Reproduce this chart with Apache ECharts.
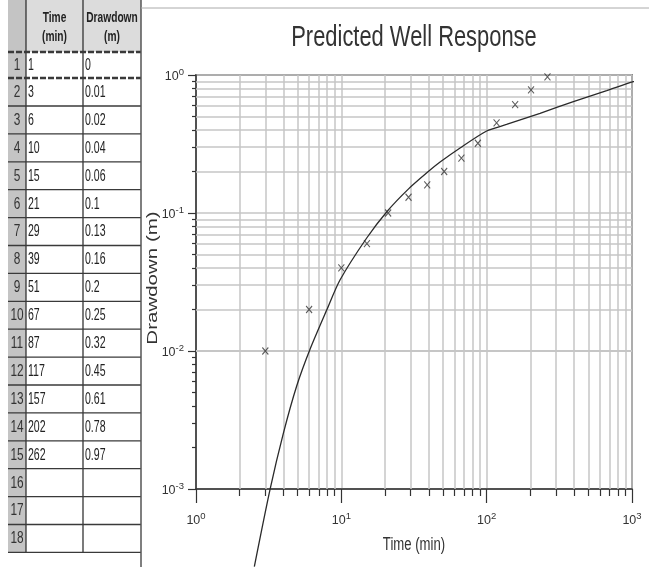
<!DOCTYPE html>
<html>
<head>
<meta charset="utf-8">
<script src="https://cdn.jsdelivr.net/npm/echarts@6/dist/echarts.min.js"></script>
<style>
html,body{margin:0;padding:0;background:#fff;}
#c{width:649px;height:567px;}
</style>
</head>
<body>
<div id="c"></div>
<script>
// ---------- data ----------
const tableRows = [1,2,3,4,5,6,7,8,9,10,11,12,13,14,15,16,17,18];
const obsTime = [1,3,6,10,15,21,29,39,51,67,87,117,157,202,262];
const obsDrawdown = [0,0.01,0.02,0.04,0.06,0.1,0.13,0.16,0.2,0.25,0.32,0.45,0.61,0.78,0.97];
const curveTime = [2.52,3.23,3.99,4.93,6.09,7.93,9.79,14.95,20.7,28.9,39.3,47.8,65.6,100,137,233,395,670,1021,1309];
const curveDrawdown = [0.000274,0.00099,0.00253,0.00558,0.0103,0.0198,0.0327,0.0659,0.103,0.149,0.198,0.234,0.296,0.393,0.438,0.528,0.641,0.770,0.894,0.962];
const minorX = [2,3,4,5,6,7,8,9,20,30,40,50,60,70,80,90,200,300,400,500,600,700,800,900];
const minorY = [0.002,0.003,0.004,0.005,0.006,0.007,0.008,0.009,0.02,0.03,0.04,0.05,0.06,0.07,0.08,0.09,0.2,0.3,0.4,0.5,0.6,0.7,0.8,0.9];
const headerTime = ['Time','(min)'];
const headerDrawdown = ['Drawdown','(m)'];
const chartTitle = 'Predicted Well Response';
const xName = 'Time (min)';
const yName = 'Drawdown (m)';

// ---------- styles ----------
const GFONT = "'Liberation Sans', Arial, sans-serif";
const AFONT = "'Liberation Sans', Arial, sans-serif";
const INK = '#333';
const GRIDC = '#c6c6c6';

function expLabel(v) {
  const e = Math.round(Math.log10(v));
  return '{b|10}{e|' + e + '}';
}
const rich = {
  b: {fontSize: 12.5, fontFamily: AFONT, color: INK, lineHeight: 16, verticalAlign: 'bottom'},
  e: {fontSize: 9.5, fontFamily: AFONT, color: INK, lineHeight: 16, verticalAlign: 'top'}
};

// ---------- table (graphic) ----------
const colX = [8, 26, 83, 141];
const rowY = [0, 52, 78];
for (let k = 0; k <= 16; k++) rowY.push(106 + 27.9 * k);
const tableBottom = rowY[rowY.length - 1];

const g = [];
g.push({type: 'rect', shape: {x: colX[0], y: 0, width: colX[3] - colX[0], height: rowY[1]}, style: {fill: '#dcdcdc'}, silent: true});
g.push({type: 'rect', shape: {x: colX[0], y: 0, width: colX[1] - colX[0], height: tableBottom}, style: {fill: '#c4c4c4'}, silent: true});
[colX[1], colX[2]].forEach(function (x) {
  g.push({type: 'line', shape: {x1: x, y1: 0, x2: x, y2: tableBottom}, style: {stroke: '#333', lineWidth: 1.3}, silent: true});
});
for (let i = 1; i < rowY.length; i++) {
  const dashed = (i === 1 || i === 2);
  g.push({type: 'line', shape: {x1: colX[0], y1: rowY[i], x2: colX[3], y2: rowY[i]},
    style: {stroke: '#3a3a3a', lineWidth: dashed ? 2.4 : 1.3, lineDash: dashed ? [6, 2] : null}, silent: true});
}
g.push({type: 'line', shape: {x1: 141, y1: 0, x2: 141, y2: 567}, style: {stroke: '#555', lineWidth: 1.5}, silent: true});
g.push({type: 'line', shape: {x1: 141, y1: 8, x2: 649, y2: 8}, style: {stroke: '#aaa', lineWidth: 1}, silent: true});

function txt(text, x, y, opt) {
  opt = opt || {};
  return {type: 'text', x: x, y: y, scaleX: opt.sx || 1, scaleY: opt.sy || 1, rotation: opt.rot || 0, silent: true,
    style: {text: text, fontSize: opt.fs || 16, fontWeight: opt.fw || 'normal', fontFamily: GFONT,
      fill: opt.color || '#222', align: opt.align || 'left', verticalAlign: 'middle'}};
}
const hc1 = (colX[1] + colX[2]) / 2, hc2 = (colX[2] + colX[3]) / 2;
g.push(txt(headerTime[0], hc1, 18, {fs: 15, fw: 'bold', sx: 0.68, align: 'center'}));
g.push(txt(headerTime[1], hc1, 37, {fs: 15, fw: 'bold', sx: 0.68, align: 'center'}));
g.push(txt(headerDrawdown[0], hc2, 18, {fs: 15, fw: 'bold', sx: 0.68, align: 'center'}));
g.push(txt(headerDrawdown[1], hc2, 37, {fs: 15, fw: 'bold', sx: 0.68, align: 'center'}));
tableRows.forEach(function (r, i) {
  const yc = (rowY[i + 1] + rowY[i + 2]) / 2 + 0.5;
  g.push(txt(String(r), 17, yc, {fs: 16, sx: 0.74, align: 'center', color: '#333'}));
  if (i < obsTime.length) {
    g.push(txt(String(obsTime[i]), colX[1] + 2, yc, {fs: 16, sx: 0.66}));
    g.push(txt(String(obsDrawdown[i]), colX[2] + 2, yc, {fs: 16, sx: 0.66}));
  }
});
g.push(txt(chartTitle, 414, 38, {fs: 30, sx: 0.73, align: 'center', color: '#333'}));
g.push(txt(xName, 414, 545, {fs: 18, sx: 0.73, align: 'center', color: '#333'}));
g.push(txt(yName, 153, 278, {fs: 20.5, sy: 0.73, rot: Math.PI / 2, align: 'center', color: '#333'}));

// ---------- series data ----------
const curveData = curveTime.map(function (t, i) { return [t, curveDrawdown[i]]; });
const obsData = [];
obsTime.forEach(function (t, i) { if (obsDrawdown[i] > 0) obsData.push([t, obsDrawdown[i]]); });

const gridLines = minorX.map(function (v) { return {xAxis: v}; })
  .concat(minorY.map(function (v) { return {yAxis: v}; }));

const chart = echarts.init(document.getElementById('c'));
chart.setOption({
  animation: false,
  graphic: g,
  grid: {left: 196, right: 17, top: 75, bottom: 78, show: true, borderColor: INK, borderWidth: 1.5,
    containLabel: false, outerBoundsMode: 'none'},
  xAxis: [
    {type: 'log', logBase: 10, min: 1, max: 1000, position: 'bottom',
      axisLine: {show: true, onZero: false, lineStyle: {color: INK, width: 1.5}},
      axisTick: {show: true, length: 14, lineStyle: {color: INK, width: 1.2}},
      axisLabel: {formatter: expLabel, rich: rich, margin: 22},
      splitLine: {show: true, lineStyle: {color: GRIDC, width: 1.5}}},
    {type: 'log', logBase: 10, min: 1, max: 1000, position: 'bottom',
      axisLine: {show: false, onZero: false},
      axisTick: {show: true, length: 7, customValues: minorX, lineStyle: {color: INK, width: 1.2}},
      axisLabel: {show: false}, splitLine: {show: false}}
  ],
  yAxis: [
    {type: 'log', logBase: 10, min: 0.001, max: 1, position: 'left',
      axisLine: {show: true, onZero: false, lineStyle: {color: INK, width: 1.5}},
      axisTick: {show: true, length: 8, lineStyle: {color: INK, width: 1.2}},
      axisLabel: {formatter: expLabel, rich: rich, margin: 12},
      splitLine: {show: true, lineStyle: {color: GRIDC, width: 1.5}}},
    {type: 'log', logBase: 10, min: 0.001, max: 1, position: 'left',
      axisLine: {show: false, onZero: false},
      axisTick: {show: true, length: 4, customValues: minorY, lineStyle: {color: INK, width: 1.2}},
      axisLabel: {show: false}, splitLine: {show: false}}
  ],
  series: [
    {type: 'line', name: 'Predicted', data: curveData, xAxisIndex: 0, yAxisIndex: 0,
      symbol: 'none', clip: false, smooth: 0.25, z: 10,
      lineStyle: {color: '#2a2a2a', width: 1.3}, silent: true},
    {type: 'scatter', name: 'Observed', data: obsData, xAxisIndex: 0, yAxisIndex: 0, z: 11,
      symbol: 'path://M0,0L10,10M10,0L0,10', symbolSize: [6, 7],
      itemStyle: {color: 'transparent', borderColor: '#333', borderWidth: 1.1},
      silent: true,
      markLine: {silent: true, z: 1, symbol: ['none', 'none'], label: {show: false},
        lineStyle: {color: GRIDC, width: 1.5, type: 'solid'}, emphasis: {disabled: true},
        data: gridLines}}
  ]
});
</script>
</body>
</html>
